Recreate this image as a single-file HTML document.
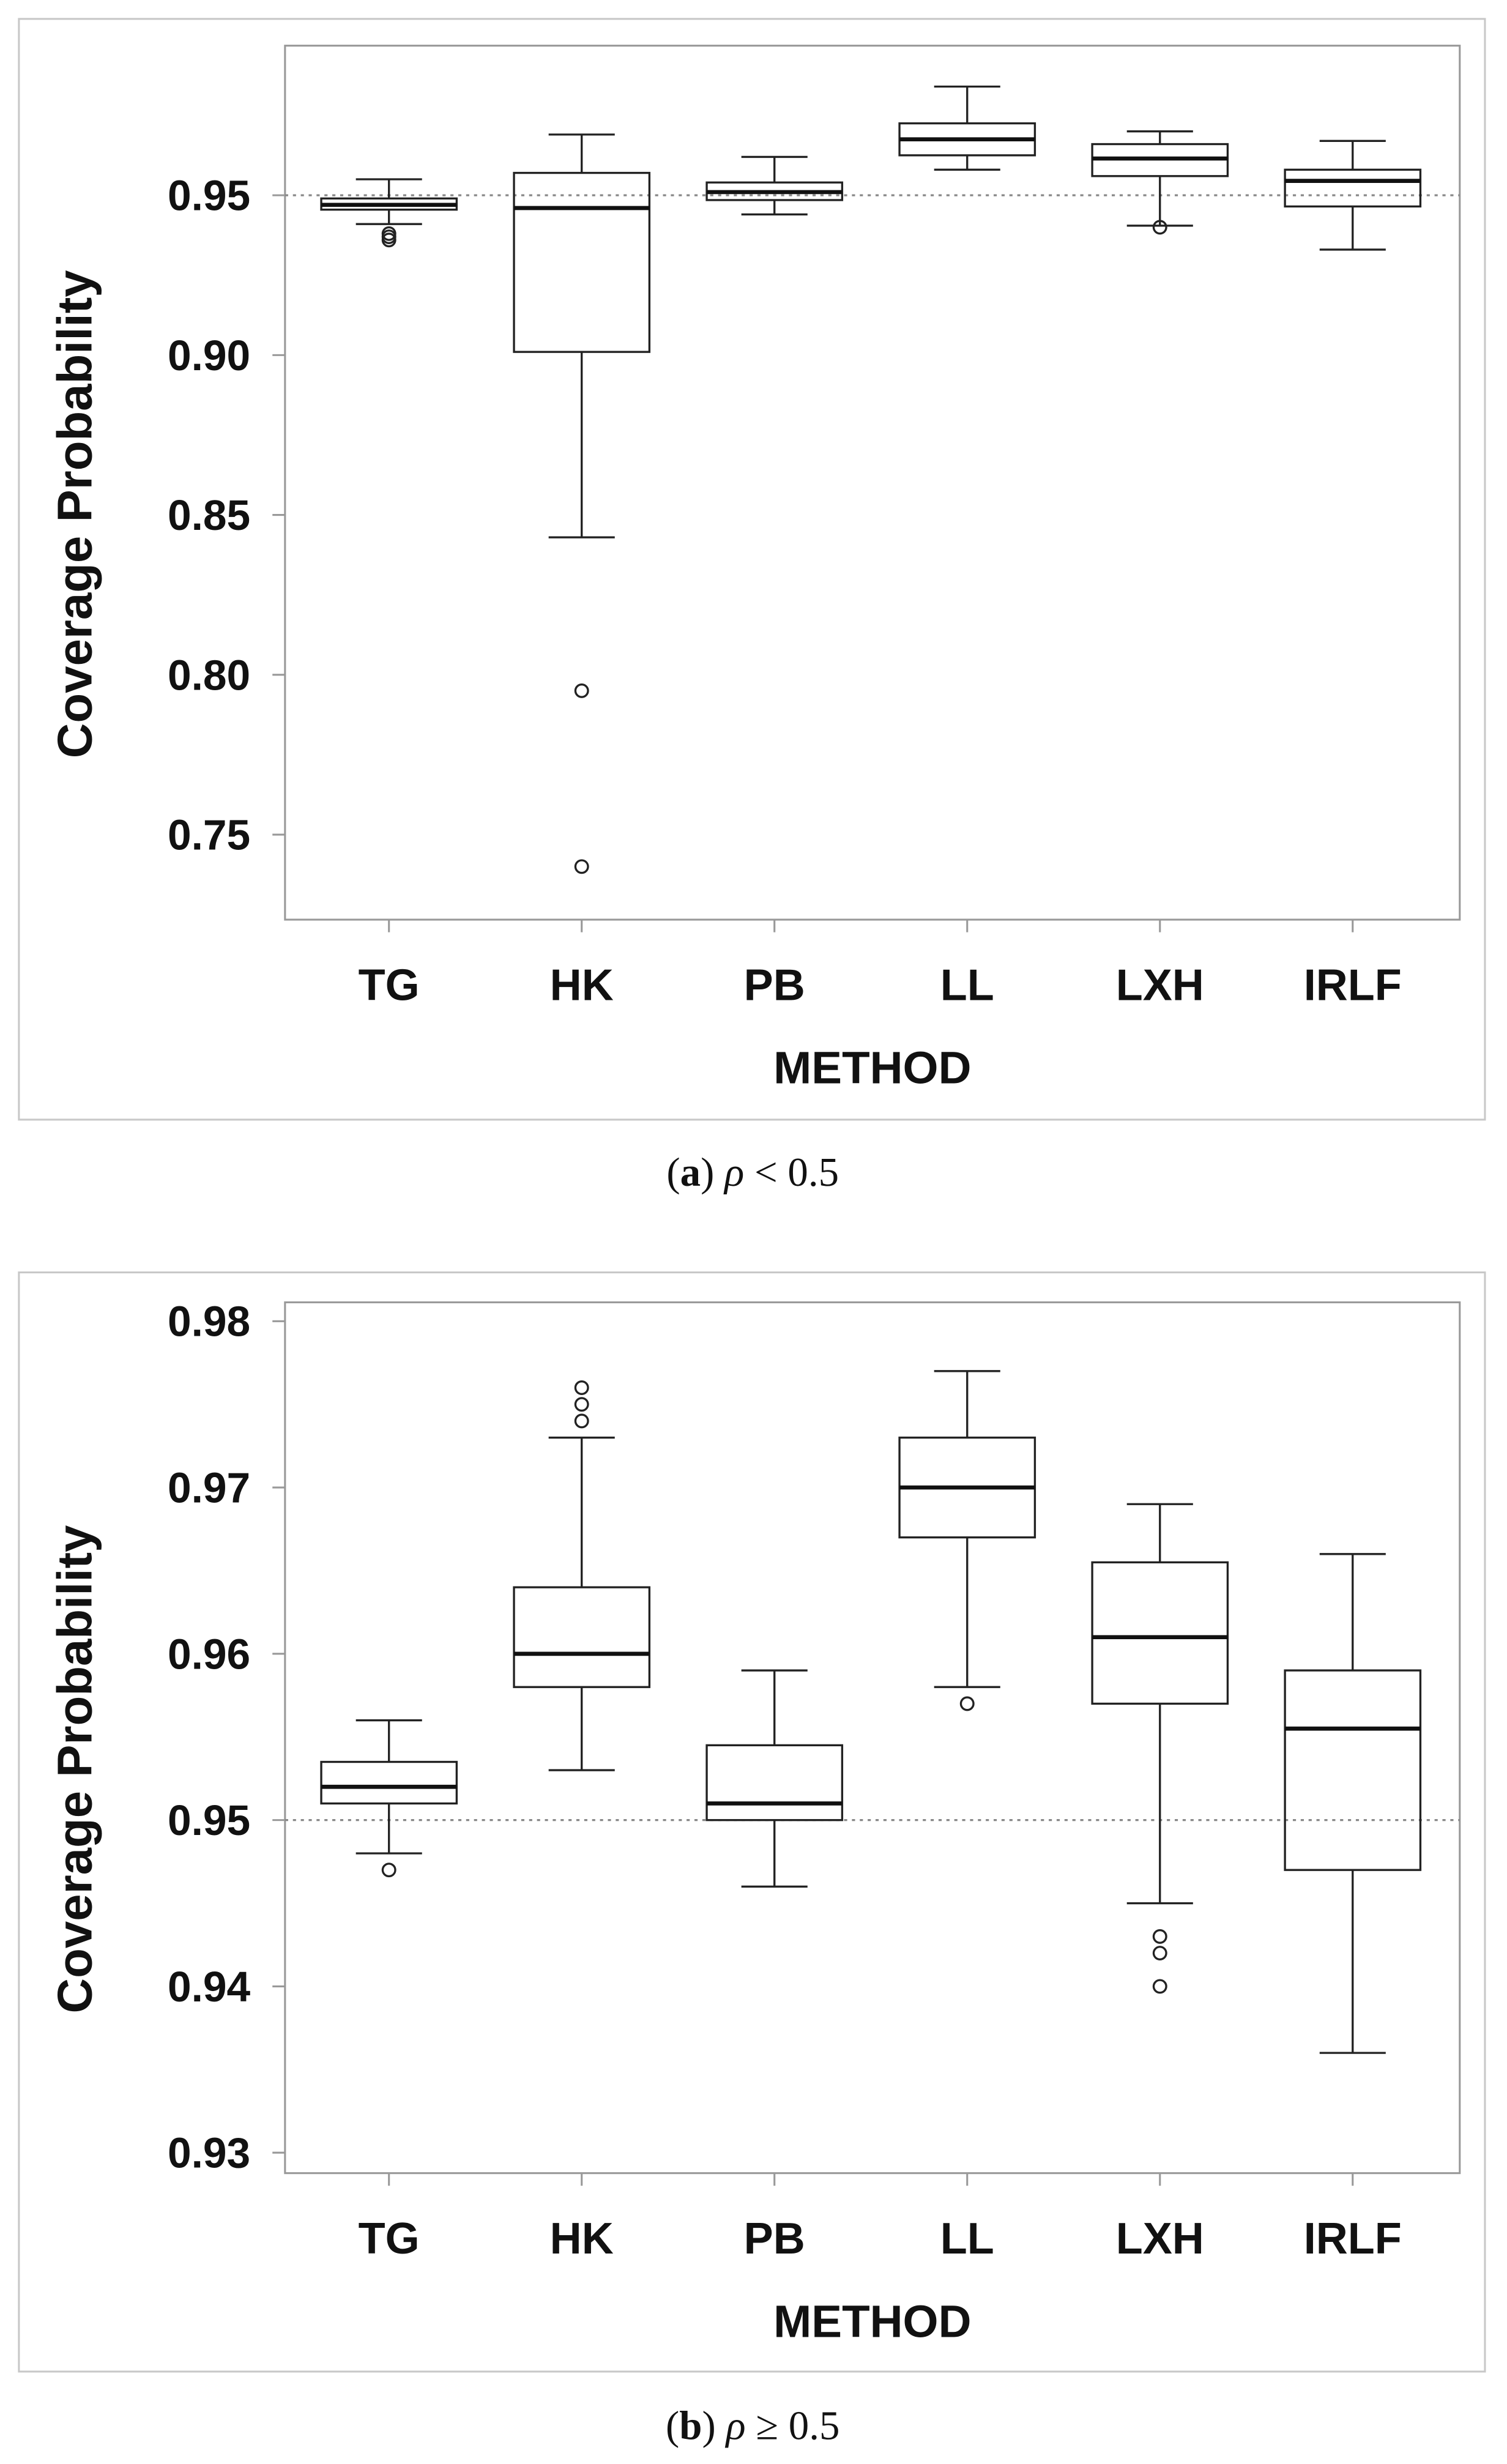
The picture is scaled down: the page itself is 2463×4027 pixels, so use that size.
<!DOCTYPE html>
<html><head><meta charset="utf-8">
<style>
html,body{margin:0;padding:0;background:#fff;}
svg{display:block;}
text{font-family:"Liberation Sans",Arial,sans-serif;font-weight:bold;fill:#111;}
.cap{font-family:"Liberation Serif",serif;font-weight:normal;}
</style></head>
<body>
<svg id="chart" width="2463" height="4027" viewBox="0 0 957 1564.7" xmlns="http://www.w3.org/2000/svg"></svg>
<script>
const categories = ["TG","HK","PB","LL","LXH","IRLF"];
// Panel a (rho < 0.5)
const aQ1 = [0.9455,0.901,0.9485,0.9625,0.956,0.9465];
const aMed = [0.947,0.946,0.951,0.9675,0.9615,0.9545];
const aQ3 = [0.949,0.957,0.954,0.9725,0.966,0.958];
const aLo = [0.941,0.843,0.944,0.958,0.9405,0.933];
const aHi = [0.955,0.969,0.962,0.984,0.970,0.967];
const aOut = [[0.937,0.936,0.938],[0.795,0.740],[],[],[0.940],[]];
const aTicks = [0.75,0.80,0.85,0.90,0.95];
const aTickLabels = ["0.75","0.80","0.85","0.90","0.95"];
// Panel b (rho >= 0.5)
const bQ1 = [0.951,0.958,0.950,0.967,0.957,0.947];
const bMed = [0.952,0.960,0.951,0.970,0.961,0.9555];
const bQ3 = [0.9535,0.964,0.9545,0.973,0.9655,0.959];
const bLo = [0.948,0.953,0.946,0.958,0.945,0.936];
const bHi = [0.956,0.973,0.959,0.977,0.969,0.966];
const bOut = [[0.947],[0.974,0.975,0.976],[],[0.957],[0.943,0.942,0.940],[]];
const bTicks = [0.93,0.94,0.95,0.96,0.97,0.98];
const bTickLabels = ["0.93","0.94","0.95","0.96","0.97","0.98"];

const NS="http://www.w3.org/2000/svg";
const svg=document.getElementById('chart');
function mk(tag,attrs,parent){const e=document.createElementNS(NS,tag);for(const k in attrs)e.setAttribute(k,attrs[k]);(parent||svg).appendChild(e);return e;}

function panel(p){
  const g=mk('g',{});
  
  
  const border=mk('rect',{x:12,y:p.oy0,width:931,height:p.oy1-p.oy0,fill:'none',stroke:'#c8c8c8','stroke-width':1.2},g);
  
  
  const frame=mk('rect',{x:181,y:p.fy0,width:746,height:p.fy1-p.fy0,fill:'none',stroke:'#999','stroke-width':1.2},g);
  
  
  const Y=v=>p.yA+(v-p.vA)*(p.yB-p.yA)/(p.vB-p.vA);
  const X=i=>247+i*122.4;
  p.ticks.forEach((t,i)=>{
    const l=mk('line',{x1:173,x2:181,y1:Y(t),y2:Y(t),stroke:'#999','stroke-width':1.2},g);
    
    
    const tx=mk('text',{x:159,y:Y(t)+9.5,'text-anchor':'end','font-size':27},g);
    tx.textContent=p.tickLabels[i];
    
    
  });
  const ref=mk('line',{x1:181,x2:927,y1:Y(0.95),y2:Y(0.95),stroke:'#888','stroke-width':1.3,'stroke-dasharray':'2,3'},g);
  
  
  categories.forEach((c,i)=>{
    const x=X(i);
    const tk=mk('line',{x1:x,x2:x,y1:p.fy1,y2:p.fy1+8,stroke:'#999','stroke-width':1.2},g);
    
    
    const lb=mk('text',{x:x,y:p.fy1+51,'text-anchor':'middle','font-size':28},g);
    lb.textContent=c;
    
    
    const bx=mk('g',{},g);
    
    
    const st={stroke:'#222','stroke-width':1.3,fill:'none'};
    mk('line',Object.assign({x1:x,x2:x,y1:Y(p.hi[i]),y2:Y(p.q3[i])},st),bx);
    mk('line',Object.assign({x1:x,x2:x,y1:Y(p.q1[i]),y2:Y(p.lo[i])},st),bx);
    mk('line',Object.assign({x1:x-21,x2:x+21,y1:Y(p.hi[i]),y2:Y(p.hi[i])},st),bx);
    mk('line',Object.assign({x1:x-21,x2:x+21,y1:Y(p.lo[i]),y2:Y(p.lo[i])},st),bx);
    mk('rect',Object.assign({x:x-43,y:Y(p.q3[i]),width:86,height:Y(p.q1[i])-Y(p.q3[i])},st),bx);
    mk('line',{x1:x-43,x2:x+43,y1:Y(p.med[i]),y2:Y(p.med[i]),stroke:'#111','stroke-width':2.6},bx);
    p.out[i].forEach(v=>{
      const o=mk('circle',{cx:x,cy:Y(v),r:4,fill:'none',stroke:'#222','stroke-width':1.3},bx);
      
      
    });
  });
  const xt=mk('text',{x:554,y:p.fy1+104,'text-anchor':'middle','font-size':29},g);
  xt.textContent='METHOD';
  
  
  const cy=(p.fy0+p.fy1)/2+20;
  const yt=mk('text',{x:58,y:cy,'text-anchor':'middle','font-size':31,transform:'rotate(-90 58 '+cy+')'},g);
  yt.textContent='Coverage Probability';
  
  
  const cap=mk('text',{x:478,y:p.capY,'text-anchor':'middle','font-size':26,'class':'cap'},g);
  cap.innerHTML=p.cap;
  
  
}
panel({name:'panel-a',oy0:12,oy1:711,fy0:29,fy1:584,yA:124,vA:0.95,yB:530,vB:0.75,ticks:aTicks,tickLabels:aTickLabels,
  q1:aQ1,med:aMed,q3:aQ3,lo:aLo,hi:aHi,out:aOut,capY:753,
  cap:'(<tspan font-weight="bold">a</tspan>) <tspan font-style="italic">ρ</tspan> &lt; 0.5'});
panel({name:'panel-b',oy0:808,oy1:1506,fy0:827,fy1:1380,yA:839,vA:0.98,yB:1367,vB:0.93,ticks:bTicks,tickLabels:bTickLabels,
  q1:bQ1,med:bMed,q3:bQ3,lo:bLo,hi:bHi,out:bOut,capY:1549,
  cap:'(<tspan font-weight="bold">b</tspan>) <tspan font-style="italic">ρ</tspan> ≥ 0.5'});
</script>
</body></html>
